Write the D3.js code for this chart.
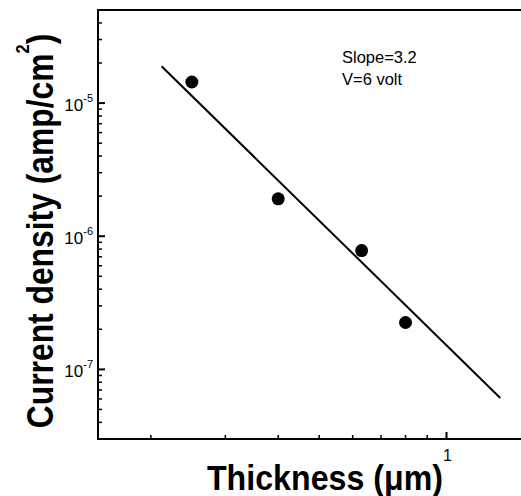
<!DOCTYPE html>
<html>
<head>
<meta charset="utf-8">
<script src="https://cdn.jsdelivr.net/npm/d3@7"></script>
<style>
  body { margin: 0; background: #fff; }
  svg { display: block; font-family: "Liberation Sans", Arial, sans-serif; }
</style>
</head>
<body>
<div id="chart"></div>
<script>
// measured points
var thickness = [0.25, 0.40, 0.63, 0.80];
var currentDensity = [1.44e-5, 1.91e-6, 7.8e-7, 2.25e-7];

// fitted line (end points)
var fitThickness = [0.212, 1.34];
var fitDensity = [1.89e-5, 6.1e-8];

var xMinorTicks = [0.2, 0.3, 0.4, 0.5, 0.6, 0.7, 0.8, 0.9];
var xMajorTicks = [1];
var yMajorTicks = [1e-7, 1e-6, 1e-5];
var yMajorLabels = ['-7', '-6', '-5'];

var annotation = ['Slope=3.2', 'V=6 volt'];

function drawChart() {
    var width = 521, height = 496;
    var margin = {left: 98, top: 10, right: 0, bottom: 57};

    var svg = d3.select('#chart').append('svg')
        .attr('width', width)
        .attr('height', height);

    var x = d3.scaleLog().domain([0.15, 1.5]).range([margin.left, margin.left + 423]);
    var y = d3.scaleLog().domain([3e-8, 5e-5]).range([height - margin.bottom, margin.top]);

    // y minor ticks: 2..9 of each decade
    var yMinor = y.ticks().filter(function(d) {
        return yMajorTicks.indexOf(d) < 0;
    });

    var g = svg.append('g');

    // frame: left, bottom, top
    var x0 = margin.left, y0 = height - margin.bottom, y1 = margin.top;
    g.append('line').attr('x1', x0).attr('x2', width).attr('y1', y0).attr('y2', y0)
        .attr('stroke', '#000').attr('stroke-width', 2);
    g.append('line').attr('x1', x0).attr('x2', x0).attr('y1', y0 + 1).attr('y2', y1 - 1)
        .attr('stroke', '#000').attr('stroke-width', 2);
    g.append('line').attr('x1', x0 - 1).attr('x2', width).attr('y1', y1).attr('y2', y1)
        .attr('stroke', '#000').attr('stroke-width', 2);

    // y ticks (inward)
    g.selectAll('.ymin').data(yMinor).enter().append('line')
        .attr('x1', x0).attr('x2', x0 + 4)
        .attr('y1', function(d) { return y(d); })
        .attr('y2', function(d) { return y(d); })
        .attr('stroke', '#000').attr('stroke-width', 1.5);
    g.selectAll('.ymaj').data(yMajorTicks).enter().append('line')
        .attr('x1', x0).attr('x2', x0 + 7)
        .attr('y1', function(d) { return y(d); })
        .attr('y2', function(d) { return y(d); })
        .attr('stroke', '#000').attr('stroke-width', 2);

    var ylab = g.selectAll('.ylab').data(yMajorTicks).enter().append('text')
        .attr('x', x0 - 5)
        .attr('y', function(d) { return y(d) + 8; })
        .attr('text-anchor', 'end')
        .attr('font-size', 17);
    ylab.append('tspan').text('10');
    ylab.append('tspan').attr('dy', -9).attr('font-size', 11)
        .text(function(d, i) { return yMajorLabels[i]; });

    // x ticks (inward)
    g.selectAll('.xmin').data(xMinorTicks).enter().append('line')
        .attr('x1', function(d) { return x(d); })
        .attr('x2', function(d) { return x(d); })
        .attr('y1', y0).attr('y2', y0 - 4)
        .attr('stroke', '#000').attr('stroke-width', 1.5);
    g.selectAll('.xmaj').data(xMajorTicks).enter().append('line')
        .attr('x1', function(d) { return x(d); })
        .attr('x2', function(d) { return x(d); })
        .attr('y1', y0).attr('y2', y0 - 7)
        .attr('stroke', '#000').attr('stroke-width', 2);
    g.selectAll('.xlab').data(xMajorTicks).enter().append('text')
        .attr('x', function(d) { return x(d) + 1; })
        .attr('y', y0 + 22)
        .attr('text-anchor', 'middle')
        .attr('font-size', 16)
        .text(function(d) { return d; });

    // fit line
    var fit = fitThickness.map(function(d, i) { return [d, fitDensity[i]]; });
    g.append('path')
        .datum(fit)
        .attr('d', d3.line()
            .x(function(d) { return x(d[0]); })
            .y(function(d) { return y(d[1]); }))
        .attr('fill', 'none')
        .attr('stroke', '#000')
        .attr('stroke-width', 2);

    // points
    g.selectAll('circle').data(thickness).enter().append('circle')
        .attr('cx', function(d) { return x(d); })
        .attr('cy', function(d, i) { return y(currentDensity[i]); })
        .attr('r', 6.5)
        .attr('fill', '#000');

    // annotation
    g.selectAll('.note').data(annotation).enter().append('text')
        .attr('x', 342)
        .attr('y', function(d, i) { return 63 + i * 22; })
        .attr('font-size', 16.5)
        .text(function(d) { return d; });

    // axis titles (bold, slightly condensed)
    svg.append('text')
        .attr('transform', 'translate(325,490) scale(0.92,1)')
        .attr('text-anchor', 'middle')
        .attr('font-size', 35).attr('font-weight', 'bold')
        .text('Thickness (\u03bcm)');

    var yt = svg.append('text')
        .attr('transform', 'translate(53,231) rotate(-90) scale(0.86,1)')
        .attr('text-anchor', 'middle')
        .attr('font-size', 37).attr('font-weight', 'bold');
    yt.append('tspan').text('Current density (amp/cm');
    yt.append('tspan').attr('dy', -24).attr('font-size', 19).text('2');
    yt.append('tspan').attr('dy', 24).text(')');
}

document.addEventListener('DOMContentLoaded', drawChart);
</script>
</body>
</html>
